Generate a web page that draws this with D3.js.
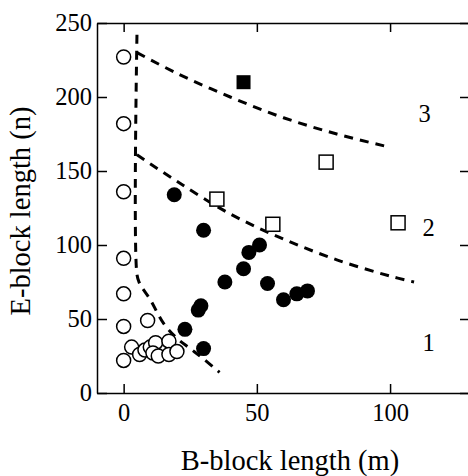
<!DOCTYPE html>
<html>
<head>
<meta charset="utf-8">
<script src="https://cdn.jsdelivr.net/npm/d3@7"></script>
<style>
  body { margin: 0; background: #fff; }
  svg text { font-family: "Liberation Serif", "Times New Roman", serif; fill: #000; }
  .tick text { font-size: 24.5px; }
  .axisTitle { font-size: 28.5px; }
  .regionLabel { font-size: 24.5px; }
</style>
</head>
<body>
<div id="chart"></div>
<script>
"use strict";

// data: [B-block length m, E-block length n]
const openCircles = [
    [0, 227], [0, 182], [0, 136], [0, 91], [0, 67], [0, 45], [0, 22],
    [9, 49], [3, 31], [6, 26], [8, 29], [10, 31], [12, 34], [11, 27],
    [13, 25], [17, 35], [17, 26], [20, 28]
];
const filledCircles = [
    [19, 134], [30, 110], [51, 100], [47, 95], [45, 84], [38, 75], [54, 74],
    [60, 63], [65, 67], [69, 69], [29, 59], [28, 56], [23, 43], [30, 30]
];
const openSquares = [[35, 131], [56, 114], [76, 156], [103, 115]];
const filledSquares = [[45, 210]];

// dashed boundaries between regions
const boundary12 = [[5, 242], [5, 80], [6, 74], [10, 63], [15, 47], [20, 37], [25, 30], [30, 23], [36, 14]];
const boundary2 = [[5, 161], [20, 143], [40, 121], [60, 104], [80, 90], [100, 79], [109, 75]];
const boundary3 = [[5, 230], [20, 216], [40, 200], [60, 186], [80, 175], [100, 166]];

const regionLabels = ["1", "2", "3"];
const regionAt = [[114.5, 34], [114.5, 112], [113, 189]];

const xTicks = [0, 50, 100];
const yTicks = [0, 50, 100, 150, 200, 250];

function draw() {
    const width = 468, height = 476;
    const margin = { left: 97, top: 23, bottom: 83 };

    let svg = d3.select("#chart").append("svg")
        .attr("width", width)
        .attr("height", height);

    //scales
    const x = d3.scaleLinear().domain([-10, 130]).range([margin.left, 470]);
    const y = d3.scaleLinear().domain([0, 250]).range([height - margin.bottom, margin.top]);

    //axes with inward ticks
    const axisStyle = g => {
        g.attr("font-family", null).attr("font-size", null);
        g.selectAll("path, line").attr("stroke", "#000").attr("stroke-width", 1.5);
    };
    svg.append("g")
        .attr("transform", `translate(0,${y(0)})`)
        .call(d3.axisBottom(x).tickValues(xTicks).tickSizeInner(-9).tickSizeOuter(0).tickPadding(11))
        .call(axisStyle);
    svg.append("g")
        .attr("transform", `translate(0,${y(250)})`)
        .call(d3.axisTop(x).tickValues(xTicks).tickSizeInner(-9).tickSizeOuter(0).tickFormat(""))
        .call(axisStyle);
    svg.append("g")
        .attr("transform", `translate(${x(-10)},0)`)
        .call(d3.axisLeft(y).tickValues(yTicks).tickSizeInner(-10).tickSizeOuter(0).tickPadding(5))
        .call(axisStyle);
    svg.append("g")
        .attr("transform", `translate(${x(130)},0)`)
        .call(d3.axisRight(y).tickValues(yTicks).tickSizeInner(-10).tickSizeOuter(0).tickFormat(""))
        .call(axisStyle);

    //dashed boundaries
    const line = d3.line().x(d => x(d[0])).y(d => y(d[1])).curve(d3.curveCatmullRom);
    [boundary12, boundary2, boundary3].forEach(b => {
        svg.append("path")
            .attr("d", line(b))
            .attr("fill", "none")
            .attr("stroke", "#000")
            .attr("stroke-width", 3)
            .attr("stroke-dasharray", "9,7");
    });

    //points
    svg.append("g").selectAll("circle.open")
        .data(openCircles).enter().append("circle")
        .attr("cx", d => x(d[0])).attr("cy", d => y(d[1])).attr("r", 7)
        .attr("fill", "#fff").attr("stroke", "#000").attr("stroke-width", 1.5);
    svg.append("g").selectAll("circle.filled")
        .data(filledCircles).enter().append("circle")
        .attr("cx", d => x(d[0])).attr("cy", d => y(d[1])).attr("r", 7.5)
        .attr("fill", "#000");
    svg.append("g").selectAll("rect.open")
        .data(openSquares).enter().append("rect")
        .attr("x", d => x(d[0]) - 7).attr("y", d => y(d[1]) - 7)
        .attr("width", 14).attr("height", 14)
        .attr("fill", "#fff").attr("stroke", "#000").attr("stroke-width", 1.5);
    svg.append("g").selectAll("rect.filled")
        .data(filledSquares).enter().append("rect")
        .attr("x", d => x(d[0]) - 7).attr("y", d => y(d[1]) - 7)
        .attr("width", 14).attr("height", 14)
        .attr("fill", "#000");

    //region numbers
    svg.append("g").selectAll("text")
        .data(regionLabels).enter().append("text")
        .classed("regionLabel", true)
        .attr("x", (_, i) => x(regionAt[i][0]))
        .attr("y", (_, i) => y(regionAt[i][1]))
        .attr("dy", "0.35em")
        .attr("text-anchor", "middle")
        .text(d => d);

    //axis titles
    svg.append("text")
        .classed("axisTitle", true)
        .attr("x", 290).attr("y", 470)
        .attr("text-anchor", "middle")
        .text("B-block length (m)");
    svg.append("text")
        .classed("axisTitle", true)
        .attr("transform", "translate(30,211) rotate(-90)")
        .attr("text-anchor", "middle")
        .text("E-block length (n)");
}

draw();
</script>
</body>
</html>
